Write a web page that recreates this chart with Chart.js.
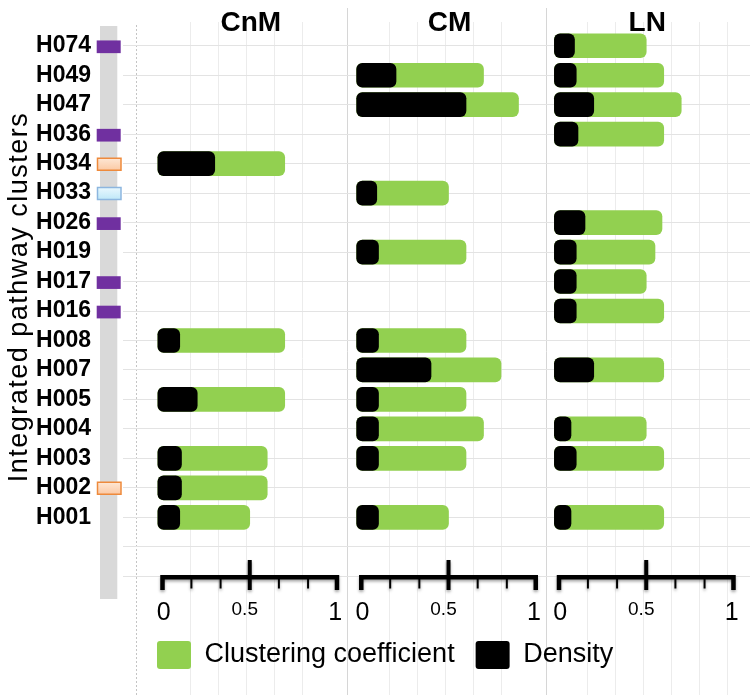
<!DOCTYPE html>
<html>
<head>
<meta charset="utf-8">
<title>Integrated pathway clusters</title>
<script src="https://cdn.jsdelivr.net/npm/chart.js@4.4.1/dist/chart.umd.min.js"></script>
<style>
    html, body { margin: 0; padding: 0; background: #fff; }
    #wrap { width: 750px; height: 695px; }
</style>
</head>
<body>
<div id="wrap"><canvas id="myChart" width="750" height="695"></canvas></div>
<script>
// clusters, top to bottom (two empty rows at the end)
const clusters = ['H074', 'H049', 'H047', 'H036', 'H034', 'H033', 'H026', 'H019', 'H017',
    'H016', 'H008', 'H007', 'H005', 'H004', 'H003', 'H002', 'H001', '', ' '];
const panels = ['CnM', 'CM', 'LN'];

// cluster group marker on the grey strip
const clusterMarks = ['violet', null, null, 'violet', 'peach', 'sky', 'violet', null, 'violet',
    'violet', null, null, null, null, null, 'peach', null];

const clusteringCnM = [null, null, null, null, 0.7, null, null, null, null, null, 0.7, null, 0.7, null, 0.6, 0.6, 0.5];
const densityCnM    = [null, null, null, null, 0.3, null, null, null, null, null, 0.1, null, 0.2, null, 0.11, 0.11, 0.1];

const clusteringCM  = [null, 0.7, 0.9, null, null, 0.5, null, 0.6, null, null, 0.6, 0.8, 0.6, 0.7, 0.6, null, 0.5];
const densityCM     = [null, 0.2, 0.6, null, null, 0.09, null, 0.1, null, null, 0.1, 0.4, 0.1, 0.1, 0.1, null, 0.1];

const clusteringLN  = [0.5, 0.6, 0.7, 0.6, null, null, 0.59, 0.55, 0.5, 0.6, null, 0.6, null, 0.5, 0.6, null, 0.6];
const densityLN     = [0.09, 0.1, 0.2, 0.11, null, null, 0.15, 0.1, 0.1, 0.1, null, 0.2, null, 0.07, 0.1, null, 0.07];

const axisTicks = ['0', '0.5', '1'];

const clustering = [clusteringCnM, clusteringCM, clusteringLN];
const density = [densityCnM, densityCM, densityLN];

const GREEN = '#92d050';
const FONT = '"Liberation Sans", Arial, Helvetica, sans-serif';

// each panel gets its own x scale laid over the full chart area
const PANEL_MIN = [-0.15, -1.286, -2.416];
const PANEL_SPAN = 3.509;

const datasets = [];
panels.forEach((name, p) => {
    datasets.push({
        label: 'Density',
        data: density[p],
        xAxisID: 'x' + p,
        backgroundColor: '#000',
        order: 0
    });
    datasets.push({
        label: 'Clustering coefficient',
        data: clustering[p],
        xAxisID: 'x' + p,
        backgroundColor: GREEN,
        order: 1
    });
});

const scales = {
    y: {
        type: 'category',
        position: 'left',
        grid: { offset: false, color: '#e3e3e3', tickLength: 13, drawTicks: true },
        border: { display: false },
        ticks: {
            autoSkip: false,
            padding: 32,
            color: '#000',
            font: { family: FONT, size: 23, weight: 'bold' }
        },
        afterFit: s => {
            s.width = 136;
            s.paddingTop = 0;
            s.paddingBottom = 0;
        }
    }
};
panels.forEach((name, p) => {
    scales['x' + p] = {
        type: 'linear',
        position: 'bottom',
        display: p === 0,
        min: PANEL_MIN[p],
        max: PANEL_MIN[p] + PANEL_SPAN,
        grid: { display: false },
        border: { display: false },
        ticks: { display: false }
    };
});
// only the first panel scale reserves room for the hand-drawn axes
scales.x0.afterFit = s => { s.height = 29; };

function drawMarker(ctx, kind, cy) {
    ctx.save();
    if (kind === 'violet') {
        ctx.fillStyle = '#7030a0';
        ctx.fillRect(96.7, cy - 5.3, 24, 12.7);
    } else {
        const g = ctx.createLinearGradient(0, cy - 6, 0, cy + 7);
        if (kind === 'peach') {
            g.addColorStop(0, '#fee8d6');
            g.addColorStop(1, '#fbc8a3');
            ctx.strokeStyle = '#ee8a3c';
        } else {
            g.addColorStop(0, '#eaf8fe');
            g.addColorStop(1, '#bde7f8');
            ctx.strokeStyle = '#8db6df';
        }
        ctx.fillStyle = g;
        ctx.lineWidth = 1.5;
        ctx.beginPath();
        ctx.rect(97.5, cy - 5.5, 23.5, 12);
        ctx.fill();
        ctx.stroke();
    }
    ctx.restore();
}

function drawPanelAxis(ctx, s, yA) {
    const px = v => s.getPixelForValue(v);
    ctx.save();
    ctx.shadowColor = 'rgba(0,0,0,0.35)';
    ctx.shadowBlur = 3;
    ctx.shadowOffsetY = 2;
    ctx.fillStyle = '#000';
    ctx.fillRect(px(0), yA - 2.5, px(1) - px(0), 4.5);
    ctx.fillRect(px(0) - 2, yA - 2.5, 4.5, 15);
    ctx.fillRect(px(1) - 2.5, yA - 2.5, 4.5, 15);
    ctx.fillRect(px(0.5) - 2, yA - 17.5, 4, 30);
    [1 / 6, 2 / 6, 4 / 6, 5 / 6].forEach(v => {
        ctx.fillRect(px(v) - 1, yA, 2, 11);
    });
    ctx.restore();

    ctx.save();
    ctx.fillStyle = '#000';
    ctx.textAlign = 'center';
    ctx.textBaseline = 'alphabetic';
    ctx.font = '25px ' + FONT;
    ctx.fillText(axisTicks[0], px(0) + 1.5, yA + 42.5);
    ctx.fillText(axisTicks[2], px(1) - 2, yA + 42.5);
    ctx.font = '19px ' + FONT;
    ctx.fillText(axisTicks[1], px(0.5) - 5, yA + 37.5);
    ctx.restore();
}

const panelDecor = {
    id: 'panelDecor',
    beforeDraw(chart) {
        const ctx = chart.ctx;
        const area = chart.chartArea;
        const h = chart.height;
        ctx.save();
        // faint background grid
        ctx.strokeStyle = '#ececec';
        ctx.lineWidth = 1;
        panels.forEach((name, p) => {
            const s = chart.scales['x' + p];
            const n = p === 2 ? 6 : 5;
            for (let k = 1; k <= n; k++) {
                const x = Math.round(s.getPixelForValue(k * 0.16)) + 0.5;
                ctx.beginPath();
                ctx.moveTo(x, 22);
                ctx.lineTo(x, h);
                ctx.stroke();
            }
        });
        // panel separators
        ctx.strokeStyle = '#d6d6d6';
        [0, 1].forEach(p => {
            const x = Math.round(chart.scales['x' + p].getPixelForValue(1.055)) + 0.5;
            ctx.beginPath();
            ctx.moveTo(x, 8);
            ctx.lineTo(x, h);
            ctx.stroke();
        });
        // dotted left edge
        ctx.strokeStyle = '#c4c4c4';
        ctx.setLineDash([2, 2]);
        ctx.beginPath();
        ctx.moveTo(area.left + 0.5, 25);
        ctx.lineTo(area.left + 0.5, h);
        ctx.stroke();
        ctx.restore();
    },
    afterDraw(chart) {
        const ctx = chart.ctx;
        const area = chart.chartArea;
        const y = chart.scales.y;

        // grey strip with cluster markers
        ctx.save();
        ctx.fillStyle = '#d9d9d9';
        ctx.fillRect(100, area.top - 5, 17.3, area.bottom - area.top + 13);
        ctx.restore();
        clusterMarks.forEach((kind, i) => {
            if (kind) drawMarker(ctx, kind, y.getPixelForValue(i));
        });

        // panel titles and axes
        panels.forEach((name, p) => {
            const s = chart.scales['x' + p];
            ctx.save();
            ctx.fillStyle = '#000';
            ctx.textAlign = 'center';
            ctx.font = 'bold 28px ' + FONT;
            ctx.fillText(name, s.getPixelForValue(0.5) + 1, 23);
            ctx.restore();
            drawPanelAxis(ctx, s, area.bottom - 13.5);
        });

        // y axis title
        ctx.save();
        ctx.translate(26.5, 297);
        ctx.rotate(-Math.PI / 2);
        ctx.fillStyle = '#000';
        ctx.textAlign = 'center';
        ctx.textBaseline = 'alphabetic';
        ctx.font = '27px ' + FONT;
        ctx.letterSpacing = '1.5px';
        ctx.fillText('Integrated pathway clusters', 0, 0);
        ctx.restore();
    }
};

const ctx = document.getElementById('myChart').getContext('2d');
const chart = new Chart(ctx, {
    type: 'bar',
    data: {
        labels: clusters,
        datasets: datasets
    },
    options: {
        indexAxis: 'y',
        responsive: false,
        animation: false,
        grouped: false,
        barThickness: 24,
        borderRadius: 6,
        borderSkipped: false,
        base: -0.025,
        layout: { padding: { top: 31, right: 0, bottom: 16, left: 0 } },
        scales: scales,
        plugins: {
            tooltip: { enabled: false },
            legend: {
                position: 'bottom',
                align: 'start',
                fullSize: false,
                labels: {
                    boxWidth: 34,
                    boxHeight: 28,
                    padding: 21,
                    color: '#000',
                    useBorderRadius: true,
                    borderRadius: 3,
                    font: { family: FONT, size: 27 },
                    generateLabels: () => [
                        { text: 'Clustering coefficient', fillStyle: GREEN, strokeStyle: GREEN, lineWidth: 0, hidden: false, borderRadius: 3 },
                        { text: 'Density', fillStyle: '#000', strokeStyle: '#000', lineWidth: 0, hidden: false, borderRadius: 3 }
                    ]
                }
            }
        }
    },
    plugins: [panelDecor]
});
</script>
</body>
</html>
